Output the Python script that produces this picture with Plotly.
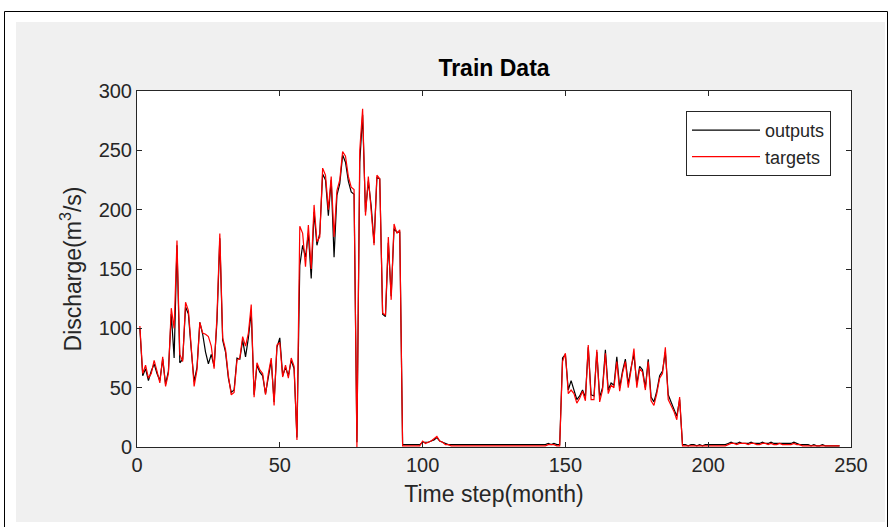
import plotly.graph_objects as go

months = list(range(1, 247))

targets = [
    102, 62, 69, 58, 62, 73, 64, 54, 76, 51,
    62, 117, 100, 174, 78, 72, 122, 115, 84, 51,
    65, 105, 96, 95, 93, 85, 66, 110, 180, 92,
    82, 60, 44, 46, 73, 75, 93, 85, 96, 120,
    42, 71, 65, 62, 44, 62, 75, 35, 86, 88,
    59, 69, 58, 75, 68, 6, 186, 180, 152, 187,
    150, 204, 173, 177, 235, 229, 200, 228, 177, 216,
    225, 249, 245, 228, 219, 217, 0, 250, 285, 195,
    228, 200, 170, 229, 226, 113, 111, 177, 124, 188,
    180, 183, 1, 1, 1, 1, 1, 1, 1, 5,
    3, 4, 5, 7, 9, 5, 4, 2, 2, 1,
    1, 1, 1, 1, 1, 1, 1, 1, 1, 1,
    1, 1, 1, 1, 1, 1, 1, 1, 1, 1,
    1, 1, 1, 1, 1, 1, 1, 1, 1, 1,
    1, 1, 1, 2, 2, 2, 1, 1, 72, 79,
    45, 48, 45, 37, 41, 47, 39, 86, 40, 40,
    82, 38, 48, 79, 45, 52, 50, 72, 47, 62,
    72, 50, 65, 83, 50, 66, 63, 48, 72, 39,
    35, 45, 58, 62, 84, 40, 35, 30, 23, 42,
    1, 1, 1, 1, 1, 1, 1, 1, 1, 1,
    1, 1, 1, 1, 1, 1, 2, 3, 3, 2,
    3, 3, 3, 2, 3, 3, 2, 2, 3, 3,
    2, 3, 2, 2, 3, 2, 2, 2, 2, 3,
    2, 2, 1, 1, 1, 1, 1, 1, 1, 1,
    1, 1, 1, 1, 1, 1,
]

outputs = [
    100, 60, 66, 56, 64, 70, 62, 56, 74, 53,
    64, 112, 75, 170, 71, 74, 118, 112, 82, 55,
    67, 105, 95, 80, 70, 78, 68, 106, 176, 90,
    80, 58, 46, 48, 75, 74, 90, 76, 92, 114,
    44, 69, 63, 60, 45, 60, 73, 38, 84, 92,
    60, 67, 60, 73, 66, 8, 153, 170, 160, 180,
    142, 198, 170, 180, 230, 225, 195, 225, 160, 212,
    222, 246, 240, 224, 215, 213, 4, 240, 280, 198,
    224, 203, 172, 227, 226, 112, 110, 172, 127, 184,
    181, 181, 2, 2, 2, 2, 2, 2, 2, 4,
    4, 4, 5, 6, 8, 5, 4, 3, 2, 2,
    2, 2, 2, 2, 2, 2, 2, 2, 2, 2,
    2, 2, 2, 2, 2, 2, 2, 2, 2, 2,
    2, 2, 2, 2, 2, 2, 2, 2, 2, 2,
    2, 2, 2, 3, 2, 3, 2, 2, 75, 78,
    48, 56, 47, 40, 43, 48, 42, 84, 44, 43,
    80, 42, 50, 82, 48, 54, 52, 76, 50, 64,
    74, 53, 67, 78, 53, 68, 65, 50, 74, 42,
    38, 47, 60, 64, 80, 44, 38, 32, 26, 40,
    2, 2, 1, 2, 2, 1, 2, 1, 2, 2,
    2, 2, 2, 2, 2, 2, 3, 4, 3, 3,
    4, 3, 3, 3, 4, 3, 3, 3, 4, 3,
    3, 4, 3, 3, 3, 3, 3, 3, 3, 4,
    3, 2, 2, 2, 2, 1, 2, 1, 1, 2,
    1, 1, 1, 1, 1, 1,
]

x_ticks = [0, 50, 100, 150, 200, 250]
y_ticks = [0, 50, 100, 150, 200, 250, 300]

W, H = 891, 527
L, R, T, B = 137, 40, 91, 80
pw, ph = W - L - R, H - T - B


def px(xp):
    return (xp - L) / pw


def py(yp):
    return (H - B - yp) / ph


FONT = "Liberation Sans, Arial, sans-serif"
AX = "#262626"

fig = go.Figure()
fig.add_trace(go.Scatter(x=months, y=outputs, mode="lines", name="outputs",
                         line=dict(color="#000000", width=1.2)))
fig.add_trace(go.Scatter(x=months, y=targets, mode="lines", name="targets",
                         line=dict(color="#ff0000", width=1.2)))

shapes = [
    dict(type="rect", xref="paper", yref="paper", x0=px(16), x1=px(885), y0=py(522), y1=py(22),
         fillcolor="#f0f0f0", line=dict(width=0), layer="below"),
    dict(type="rect", xref="x domain", yref="y domain", x0=0, x1=1, y0=0, y1=1,
         fillcolor="#ffffff", line=dict(width=0), layer="below"),
    dict(type="rect", xref="paper", yref="paper", x0=px(4.5), x1=px(887.5), y0=py(540), y1=py(11.5),
         fillcolor="rgba(0,0,0,0)", line=dict(color="#000000", width=1), layer="below"),
]

axis_common = dict(
    showline=True, linecolor=AX, linewidth=1, mirror="ticks",
    ticks="inside", ticklen=5, tickcolor=AX, tickwidth=1,
    showgrid=False, zeroline=False,
    tickfont=dict(family=FONT, size=20, color=AX),
)

fig.update_layout(
    width=W, height=H,
    margin=dict(l=L, r=R, t=T, b=B, autoexpand=False),
    paper_bgcolor="#ffffff", plot_bgcolor="#ffffff",
    shapes=shapes,
    title=dict(text="<b>Train Data</b>", x=(L + pw / 2) / W, xanchor="center", y=1 - 68 / H, yanchor="middle",
               font=dict(family=FONT, size=23, color="#000000")),
    xaxis=dict(range=[0, 250], tickvals=x_ticks, ticktext=[str(v) for v in x_ticks],
               title=dict(text="Time step(month)", font=dict(family=FONT, size=23, color=AX), standoff=10),
               **axis_common),
    yaxis=dict(range=[0, 300], tickvals=y_ticks, ticktext=[str(v) for v in y_ticks],
               title=dict(text="Discharge(m<sup>3</sup>/s)", font=dict(family=FONT, size=23, color=AX), standoff=10),
               **axis_common),
    legend=dict(x=px(831), xanchor="right", y=py(111), yanchor="top",
                bgcolor="#ffffff", bordercolor=AX, borderwidth=1,
                font=dict(family=FONT, size=18, color=AX), itemwidth=68,
                tracegroupgap=0),
    showlegend=True,
)

fig.write_html("out.html", config={"displayModeBar": False},
               post_script="document.body.style.margin='0px';")
